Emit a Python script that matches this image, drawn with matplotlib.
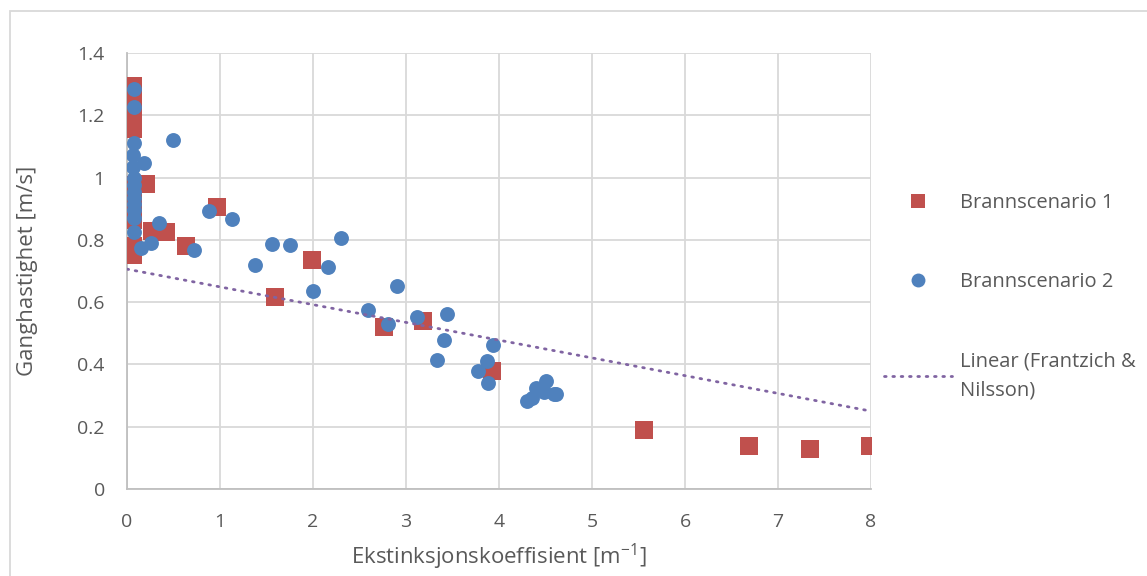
import matplotlib
matplotlib.use("Agg")
import matplotlib.pyplot as plt
from matplotlib.lines import Line2D
from matplotlib.patches import Rectangle

# ---- data ----
s1_x = [0.06, 0.06, 0.06, 0.06, 0.06, 0.06, 0.06, 0.20, 0.06, 0.06, 0.06, 0.06,
        0.27, 0.42, 0.06, 0.06, 0.63, 0.97, 1.99, 1.59, 2.76, 3.18, 3.92, 5.56,
        6.69, 7.34, 7.99]
s1_y = [1.295, 1.275, 1.235, 1.22, 1.17, 1.155, 0.975, 0.98, 0.92, 0.90, 0.88, 0.865,
        0.83, 0.825, 0.78, 0.75, 0.78, 0.905, 0.735, 0.615, 0.52, 0.54, 0.38, 0.19,
        0.138, 0.127, 0.137]

s2_x = [0.07, 0.07, 0.49, 0.07, 0.06, 0.18, 0.06, 0.07, 0.07, 0.08, 0.07, 0.07,
        0.07, 0.07, 0.88, 1.13, 0.34, 0.07, 0.26, 0.15, 0.72, 1.38, 1.56, 1.75,
        2.30, 2.16, 2.00, 2.90, 2.59, 2.81, 3.12, 3.44, 3.41, 3.33, 3.94, 3.87,
        3.77, 3.885, 4.51, 4.40, 4.48, 4.59, 4.36, 4.30, 4.61]
s2_y = [1.285, 1.227, 1.12, 1.11, 1.073, 1.047, 1.035, 0.998, 0.975, 0.955, 0.935, 0.915,
        0.895, 0.87, 0.894, 0.866, 0.855, 0.825, 0.79, 0.773, 0.767, 0.718, 0.786, 0.783,
        0.807, 0.713, 0.636, 0.652, 0.575, 0.531, 0.551, 0.562, 0.48, 0.414, 0.461, 0.412,
        0.38, 0.34, 0.347, 0.323, 0.312, 0.305, 0.291, 0.283, 0.305]

trend_x = [0.0, 8.0]
trend_y = [0.706, 0.25]

labels = ["Brannscenario 1", "Brannscenario 2", "Linear (Frantzich &\nNilsson)"]
x_ticks = [0, 1, 2, 3, 4, 5, 6, 7, 8]
y_ticks = [0, 0.2, 0.4, 0.6, 0.8, 1.0, 1.2, 1.4]
y_tick_labels = ["0", "0.2", "0.4", "0.6", "0.8", "1", "1.2", "1.4"]

# ---- style ----
plt.rcParams['font.family'] = ['Open Sans', 'DejaVu Sans']
plt.rcParams['mathtext.fontset'] = 'custom'
plt.rcParams['mathtext.rm'] = 'Open Sans'
plt.rcParams['mathtext.it'] = 'Open Sans'
txt = '#595959'
red = '#C0504D'
blue = '#4F81BD'
purple = '#8064A2'

fig = plt.figure(figsize=(11.47, 5.76), dpi=100)
W, H = 1147, 576
ax = fig.add_axes([127 / W, (H - 489) / H, (871 - 127) / W, (489 - 53) / H])

ax.scatter(s1_x, s1_y, marker='s', s=150, color=red, linewidths=0, zorder=3)
ax.scatter(s2_x, s2_y, marker='o', s=115, color=blue, linewidths=0, zorder=4)
ax.plot(trend_x, trend_y, color=purple, lw=2.0, linestyle=(0, (0.6, 2.4)),
        dash_capstyle='round', zorder=5)

ax.set_xlim(0, 8)
ax.set_ylim(0, 1.4)
ax.set_xticks(x_ticks)
ax.set_yticks(y_ticks)
ax.set_yticklabels(y_tick_labels)
ax.tick_params(length=0, labelsize=14, colors=txt)
ax.tick_params(axis='y', pad=16)
ax.tick_params(axis='x', pad=17)
ax.grid(True, color='#d9d9d9', lw=1.3)
ax.set_axisbelow(True)
for s in ['top', 'right']:
    ax.spines[s].set_visible(False)
for s in ['left', 'bottom']:
    ax.spines[s].set_color('#bfbfbf')
    ax.spines[s].set_linewidth(1.3)

ax.set_xlabel(r'Ekstinksjonskoeffisient [m$^{-1}$]', fontsize=16, color=txt, labelpad=8)
ax.set_ylabel('Ganghastighet [m/s]', fontsize=16, color=txt, labelpad=28)

handles = [
    Line2D([], [], marker='s', color=red, linestyle='none', markersize=10.5, markeredgewidth=0),
    Line2D([], [], marker='o', color=blue, linestyle='none', markersize=10, markeredgewidth=0),
    Line2D([], [], color=purple, lw=2.0, linestyle=(0, (0.6, 2.4)), dash_capstyle='round'),
]
leg = fig.legend(handles, labels, loc='upper left', bbox_to_anchor=(884 / W, (H - 193) / H),
                 frameon=False, fontsize=14.5, labelspacing=2.95, handlelength=3.4,
                 handletextpad=0.35, borderpad=0, borderaxespad=0, labelcolor=txt)
for t in leg.get_texts():
    t.set_linespacing(1.55)

# outer chart border
fig.patches.append(Rectangle((10 / W, -0.05), 1.2, (H - 11) / H + 0.05,
                             transform=fig.transFigure, fill=False,
                             edgecolor='#d9d9d9', lw=1.3))

fig.savefig('out.png', dpi=100)
